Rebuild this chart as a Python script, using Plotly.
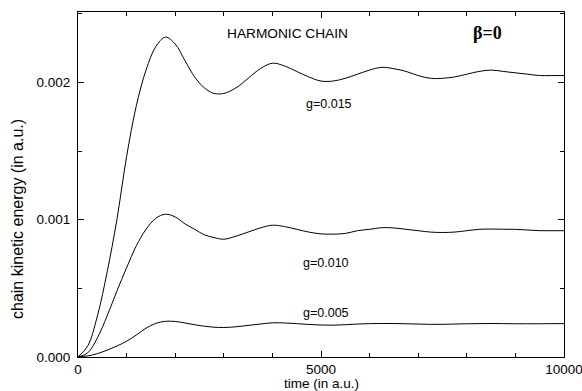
import plotly.graph_objects as go

# time grid (a.u.)
time = [0, 200, 400, 600, 800, 1000, 1200, 1400, 1600, 1800, 2000, 2200, 2400,
        2600, 2800, 3000, 3250, 3500, 3750, 4000, 4250, 4500, 4750, 5000, 5250,
        5500, 5750, 6000, 6250, 6500, 6750, 7000, 7250, 7500, 7750, 8000, 8250,
        8500, 8750, 9000, 9250, 9500, 9750, 10000]

ke_g015 = [0.0, 0.00008, 0.00030, 0.00062, 0.00100, 0.00146, 0.00183, 0.00209,
           0.00226, 0.00233, 0.00228, 0.00216, 0.00204, 0.00196, 0.00192, 0.00192,
           0.00196, 0.00203, 0.00210, 0.00214, 0.00212, 0.00208, 0.00204, 0.00201,
           0.00201, 0.00203, 0.00206, 0.00209, 0.00211, 0.00210, 0.00208, 0.00205,
           0.00203, 0.00203, 0.00204, 0.00206, 0.00208, 0.00209, 0.00208, 0.00207,
           0.00206, 0.00205, 0.00205, 0.00205]

ke_g010 = [0.0, 0.00003, 0.00014, 0.00030, 0.00048, 0.00065, 0.00081, 0.00093,
           0.00101, 0.00104, 0.00102, 0.00097, 0.00093, 0.00089, 0.00087, 0.000858,
           0.00088, 0.00091, 0.00094, 0.00096, 0.00095, 0.00093, 0.00091, 0.000897,
           0.000895, 0.00090, 0.00092, 0.00093, 0.000942, 0.00094, 0.00093, 0.00092,
           0.00091, 0.000907, 0.00091, 0.00092, 0.00093, 0.000932, 0.000931, 0.00093,
           0.000925, 0.00092, 0.00092, 0.00092]

ke_g005 = [0.0, 0.000008, 0.000025, 0.00005, 0.00008, 0.000115, 0.00016, 0.00021,
           0.000245, 0.00026, 0.000259, 0.000248, 0.000235, 0.000224, 0.000217, 0.000215,
           0.00022, 0.00023, 0.00024, 0.000249, 0.000248, 0.000243, 0.000237, 0.000233,
           0.000232, 0.000235, 0.00024, 0.000243, 0.000244, 0.000244, 0.000242, 0.00024,
           0.000238, 0.000238, 0.00024, 0.000242, 0.000243, 0.000244, 0.000243, 0.000242,
           0.000242, 0.000242, 0.000243, 0.000243]

x_ticks = [0, 5000, 10000]
x_ticktext = ["0", "5000", "10000"]
y_ticks = [0.0, 0.001, 0.002]
y_ticktext = ["0.000", "0.001", "0.002"]

series = [("g=0.015", ke_g015), ("g=0.010", ke_g010), ("g=0.005", ke_g005)]

FONT = "Liberation Sans, Arial, sans-serif"

fig = go.Figure()
for name, ys in series:
    fig.add_trace(go.Scatter(x=time, y=ys, mode="lines", name=name,
                             line=dict(color="black", width=1, shape="spline", smoothing=1.0),
                             showlegend=False, hoverinfo="skip"))

axis_common = dict(showgrid=False, zeroline=False, showline=True, linecolor="black",
                   linewidth=1, mirror="ticks", ticks="inside", tickcolor="black",
                   ticklen=6, tickwidth=1, automargin=False,
                   tickfont=dict(family=FONT, size=13.5, color="black"))

fig.update_xaxes(range=[0, 10000], tickvals=x_ticks, ticktext=x_ticktext,
                 ticklabeloverflow="allow",
                 minor=dict(dtick=1000, ticks="inside", ticklen=4, tickcolor="black"),
                 **axis_common)
fig.update_yaxes(range=[0, 0.002513], tickvals=y_ticks, ticktext=y_ticktext,
                 minor=dict(dtick=0.0005, ticks="inside", ticklen=4, tickcolor="black"),
                 ticklabelstandoff=4,
                 **axis_common)

annos = [
    dict(text="HARMONIC CHAIN", x=4320, y=0.002355, xref="x", yref="y",
         font=dict(family=FONT, size=13.7, color="black"), showarrow=False),
    dict(text="<b>β=0</b>", x=8430, y=0.00236, xref="x", yref="y",
         font=dict(family="Liberation Serif, Times New Roman, serif", size=18, color="black"),
         showarrow=False),
    dict(text="g=0.015", x=5157, y=0.001843, xref="x", yref="y",
         font=dict(family=FONT, size=12.5, color="black"), showarrow=False),
    dict(text="g=0.010", x=5113, y=0.000684, xref="x", yref="y",
         font=dict(family=FONT, size=12.5, color="black"), showarrow=False),
    dict(text="g=0.005", x=5113, y=0.000319, xref="x", yref="y",
         font=dict(family=FONT, size=12.5, color="black"), showarrow=False),
    dict(text="time (in a.u.)", x=0.5, y=0, xref="paper", yref="paper",
         xanchor="center", yanchor="top", yshift=-17,
         font=dict(family=FONT, size=13.5, color="black"), showarrow=False),
    dict(text="chain kinetic energy (in a.u.)", x=0, y=0.40, xref="paper", yref="paper",
         xanchor="center", yanchor="middle", xshift=-61, textangle=-90,
         font=dict(family=FONT, size=16, color="black"), showarrow=False),
]

fig.update_layout(width=582, height=391, margin=dict(l=78, r=18, t=12, b=34),
                  paper_bgcolor="white", plot_bgcolor="white", annotations=annos)

fig.write_html("out.html")
